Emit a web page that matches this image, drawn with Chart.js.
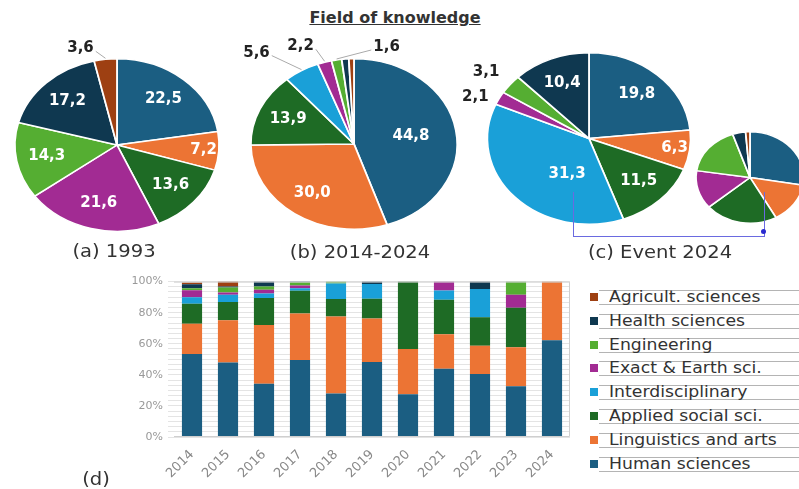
<!DOCTYPE html>
<html>
<head>
<meta charset="utf-8">
<script src="https://cdn.jsdelivr.net/npm/chart.js@4.4.1/dist/chart.umd.min.js"></script>
<style>
  body { margin: 0; background: #fff; }
  #page { position: relative; width: 799px; height: 489px; overflow: hidden; font-family: "DejaVu Sans", sans-serif; color: #333; }
  #page canvas { position: absolute; }
  .txt { position: absolute; white-space: nowrap; line-height: 20px; }
  .title { left: 0; width: 790px; top: 8px; text-align: center; font-weight: bold; font-size: 16px; text-decoration: underline; color: #333; }
  .cap { font-size: 17px; transform: translateX(-50%) scaleX(1.15); }
  .item { position: absolute; left: 590px; width: 209px; height: 14px; }
  .item .mark { position: absolute; left: 0; top: 3px; width: 8px; height: 8px; }
  .item .box { position: absolute; left: 9px; right: 0; top: 0; height: 13px; border-top: 1px solid #b4b4b4; border-bottom: 1px solid #b4b4b4; }
  .item .lab { position: absolute; left: 19px; top: -3px; font-size: 15px; line-height: 20px; color: #333; transform: scaleX(1.15); transform-origin: left center; white-space: nowrap; }
  .link { position: absolute; border-color: #6a6ae0; border-style: solid; border-width: 0; }
</style>
</head>
<body>
<div id="page">
  <div class="txt title">Field of knowledge</div>
  <canvas id="pieA" width="320" height="234" style="left:-43px;top:28px"></canvas>
  <canvas id="pieB" width="320" height="232" style="left:194px;top:28px"></canvas>
  <canvas id="pieC" width="320" height="233" style="left:429px;top:22px"></canvas>
  <canvas id="pieD" width="160" height="113" style="left:670px;top:121px"></canvas>
  <div class="link" style="left:573px;top:192px;width:190px;height:44px;border-left-width:1px;border-bottom-width:1px;border-right-width:1px"></div>
  <div style="position:absolute;left:761px;top:229px;width:5px;height:5px;border-radius:50%;background:#2a2ad0"></div>
  <div class="txt cap" style="left:114px;top:241px">(a) 1993</div>
  <div class="txt cap" style="left:360px;top:242px">(b) 2014-2024</div>
  <div class="txt cap" style="left:660px;top:242px">(c) Event 2024</div>
  <canvas id="bars" width="580" height="219" style="left:0;top:270px"></canvas>
  <div class="txt cap" style="left:96px;top:469px">(d)</div>
  <div id="legend"></div>
</div>
<script>
// fields, bottom of the stack / first slice first
const fields = ['Human sciences', 'Linguistics and arts', 'Applied social sci.', 'Interdisciplinary',
                'Exact & Earth sci.', 'Engineering', 'Health sciences', 'Agricult. sciences'];
const colors = ['#1b5e82', '#ec7434', '#1e6b25', '#1aa0d8', '#a22b93', '#55ae32', '#0f3850', '#9e4012'];

// pies (%)
const pie1993 = [22.5, 7.2, 13.6, 0, 21.6, 14.3, 17.2, 3.6];
const pie2014to2024 = [44.8, 30.0, 13.9, 5.6, 2.2, 1.6, 1.1, 0.8];
const pieEvent2024 = [19.8, 6.3, 11.5, 31.3, 2.1, 3.1, 10.4, 0];
const pieEventDetail = [27.7, 14.3, 21.8, 0, 13.6, 17.4, 3.9, 1.3];

// stacked bars (%), one array per field
const years = ['2014', '2015', '2016', '2017', '2018', '2019', '2020', '2021', '2022', '2023', '2024'];
const humanSci = [53.4, 47.9, 34.3, 49.6, 28.0, 48.3, 27.5, 43.9, 40.5, 32.6, 62.3];
const linguistics = [19.5, 27.3, 37.7, 29.8, 49.5, 28.0, 29.1, 22.2, 18.2, 25.2, 37.7];
const appliedSocial = [12.9, 11.7, 17.4, 14.7, 11.3, 12.7, 43.4, 22.2, 18.4, 25.3, 0];
const interdisc = [4.2, 4.6, 3.0, 1.7, 9.9, 9.5, 0, 6.0, 18.2, 0, 0];
const exactEarth = [4.5, 1.5, 2.3, 1.7, 0, 0, 0, 5.7, 0, 8.4, 0];
const engineering = [1.2, 3.2, 2.1, 2.1, 1.3, 0, 0, 0, 0, 8.5, 0];
const health = [2.6, 0.6, 3.2, 0.4, 0, 1.5, 0, 0, 4.7, 0, 0];
const agricult = [1.2, 3.2, 0, 0, 0, 0, 0, 0, 0, 0, 0];
const barSeries = [humanSci, linguistics, appliedSocial, interdisc, exactEarth, engineering, health, agricult];

/**
 * Stretches the pie sideways and writes the slice values.
 */
const pieText = {
    id: 'pieText',
    beforeDatasetsDraw (chart, args, opts) {
        const arc = chart.getDatasetMeta(0).data[0];
        const ctx = chart.ctx;
        ctx.save();
        ctx.translate(arc.x, arc.y);
        ctx.scale(opts.sx, 1);
        ctx.translate(-arc.x, -arc.y);
    },
    afterDatasetsDraw (chart, args, opts) {
        const ctx = chart.ctx;
        ctx.restore();
        if (!opts.labels) return;
        const values = chart.data.datasets[0].data;
        const total = values.reduce((a, b) => a + b, 0);
        ctx.save();
        ctx.font = 'bold 15px "DejaVu Sans"';
        ctx.textAlign = 'center';
        ctx.textBaseline = 'middle';
        chart.getDatasetMeta(0).data.forEach((arc, i) => {
            const v = values[i];
            if (!v) return;
            const mid = (arc.startAngle + arc.endAngle) / 2;
            const at = (k) => [arc.x + Math.cos(mid) * arc.outerRadius * k * opts.sx,
                               arc.y + Math.sin(mid) * arc.outerRadius * k];
            const text = v.toFixed(1).replace('.', ',');
            const out = (opts.outside || {})[i];
            if (out) {
                const [ax, ay] = at(1);
                const tx = ax + out[0], ty = ay + out[1];
                if (out[2]) {
                    const half = ctx.measureText(text).width / 2 + 2;
                    ctx.strokeStyle = '#aaa';
                    ctx.lineWidth = 1;
                    ctx.beginPath();
                    ctx.moveTo(tx - Math.sign(out[0]) * half, ty + 3);
                    ctx.lineTo(ax, ay - 1);
                    ctx.stroke();
                }
                ctx.fillStyle = '#222';
                ctx.fillText(text, tx, ty);
            } else if (v / total >= 0.06) {
                const share = v / total;
                const k = share > 0.4 ? 0.56 : share < 0.08 ? 0.85 : 0.7;
                let [x, y] = at(k);
                const s = (opts.shift || {})[i];
                if (s) { x += s[0]; y += s[1]; }
                ctx.fillStyle = '#fff';
                ctx.fillText(text, x, y);
            }
        });
        ctx.restore();
    }
};

function makePie (id, values, textOpts) {
    const canvas = document.getElementById(id);
    const r = textOpts.r, pad = textOpts.pad;
    const side = (canvas.width - 2 * r) / 2;
    new Chart(canvas, {
        type: 'pie',
        data: {
            labels: fields,
            datasets: [{
                data: values,
                backgroundColor: colors,
                borderColor: '#fff',
                borderWidth: 1.5,
                clip: false
            }]
        },
        options: {
            responsive: false,
            animation: false,
            events: [],
            devicePixelRatio: 1,
            layout: { padding: { top: pad, bottom: pad, left: side, right: side } },
            plugins: {
                legend: { display: false },
                tooltip: { enabled: false },
                pieText: textOpts
            }
        },
        plugins: [pieText]
    });
}

makePie('pieA', pie1993, { r: 87, pad: 30, sx: 1.184, labels: true,
    outside: { 7: [-25, -11, true] } });
makePie('pieB', pie2014to2024, { r: 86, pad: 30, sx: 1.21, labels: true,
    outside: { 3: [-45, -18, true], 4: [-24, -16, true], 5: [50, -13, true] } });
makePie('pieC', pieEvent2024, { r: 86.5, pad: 30, sx: 1.185, labels: true,
    outside: { 4: [-24, -1, false], 5: [-24, -12, false] }, shift: { 3: [30, -5] } });
makePie('pieD', pieEventDetail, { r: 46.5, pad: 10, sx: 1.18, labels: false });

/**
 * Thin frame on top, right and bottom of the plot.
 */
const frame = {
    id: 'frame',
    afterDatasetsDraw (chart) {
        const { ctx, chartArea: a } = chart;
        ctx.save();
        ctx.strokeStyle = '#cfcfcf';
        ctx.lineWidth = 1;
        ctx.beginPath();
        ctx.moveTo(a.left, a.top + 0.5);
        ctx.lineTo(a.right - 0.5, a.top + 0.5);
        ctx.lineTo(a.right - 0.5, a.bottom - 0.5);
        ctx.lineTo(a.left, a.bottom - 0.5);
        ctx.stroke();
        ctx.restore();
    }
};

new Chart(document.getElementById('bars'), {
    type: 'bar',
    data: {
        labels: years,
        datasets: fields.map((name, i) => ({
            label: name,
            data: barSeries[i],
            backgroundColor: colors[i],
            barPercentage: 0.56,
            categoryPercentage: 1
        }))
    },
    options: {
        responsive: false,
        animation: false,
        events: [],
        devicePixelRatio: 1,
        layout: { padding: { top: 10, right: 10 } },
        plugins: { legend: { display: false }, tooltip: { enabled: false } },
        scales: {
            x: {
                stacked: true,
                grid: { display: false },
                border: { display: false },
                ticks: { color: '#888', font: { family: 'DejaVu Sans', size: 13 }, minRotation: 45, maxRotation: 45, padding: 2 },
                afterFit: (s) => { s.height = 52; }
            },
            y: {
                stacked: true,
                min: 0,
                max: 100,
                grid: { color: '#e4e4e4', tickLength: 6 },
                border: { display: false },
                ticks: {
                    stepSize: 10 / 3,
                    autoSkip: false,
                    color: '#999',
                    padding: 5,
                    font: { family: 'DejaVu Sans', size: 11 },
                    callback: (v) => {
                        const n = Math.round(v / 20) * 20;
                        return Math.abs(v - n) < 0.01 ? n + '%' : '';
                    }
                },
                afterFit: (s) => { s.width = 174; }
            }
        }
    },
    plugins: [frame]
});

// legend, top entry is the top of the stack
const legend = document.getElementById('legend');
fields.slice().reverse().forEach((name, j) => {
    const i = fields.length - 1 - j;
    const item = document.createElement('div');
    item.className = 'item';
    item.style.top = (290 + j * 23.8) + 'px';
    item.innerHTML = `<span class="mark" style="background:${colors[i]}"></span><div class="box"></div><span class="lab"></span>`;
    item.querySelector('.lab').textContent = name;
    legend.appendChild(item);
});
</script>
</body>
</html>
